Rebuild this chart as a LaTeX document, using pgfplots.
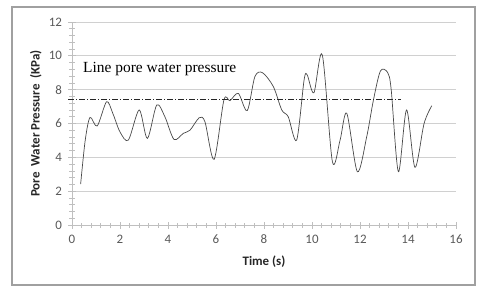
\documentclass[border=0pt]{standalone}
\usepackage{fontspec}
\setmainfont{Carlito}
\newfontfamily\tnr{Liberation Serif}
\usepackage{pgfplots}
\pgfplotsset{compat=1.18}
\definecolor{axgray}{HTML}{BFBFBF}
\definecolor{gridgray}{HTML}{D0D0D0}
\definecolor{txtgray}{HTML}{595959}
\definecolor{curvec}{HTML}{484848}
\begin{document}
\begin{tikzpicture}
\begin{axis}[
  scale only axis, width=384bp, height=203bp,
  xmin=0, xmax=16, ymin=0, ymax=12,
  xtick={0,2,...,16}, ytick={0,2,...,12},
  minor x tick num=4, minor y tick num=4,
  axis x line*=bottom, axis y line*=left,
  axis line style={draw=axgray, line width=0.8bp, -},
  every outer x axis line/.append style={-},
  every outer y axis line/.append style={-},
  ymajorgrids, major grid style={draw=gridgray, line width=0.8bp},
  tick style={draw=axgray, line width=0.7bp},
  tick align=center, major tick length=7bp, minor tick length=5bp,
  /pgf/number format/assume math mode=true,
  ticklabel style={font=\fontsize{13}{15}\selectfont, text=txtgray},
  xticklabel style={yshift=-3bp},
  yticklabel style={xshift=-3bp},
  xlabel={Time (s)},
  ylabel={Pore\ \ Water Pressure\ \ (KPa)},
  label style={font=\fontsize{13}{15}\selectfont\bfseries, text=black!85},
  xlabel style={at={(axis description cs:0.5,-0.182)}, anchor=center},
  ylabel style={at={(axis description cs:-0.094,0.5)}, anchor=center, rotate=0},
  clip=false,
]
\addplot[curvec, line width=0.7bp, smooth, tension=0.5] coordinates {
(0.36,2.42) (0.55,5.0) (0.75,6.36) (1.05,5.85) (1.44,7.29) (1.7,6.6)
(2.0,5.5) (2.35,5.02) (2.8,6.8) (3.14,5.12) (3.53,7.09) (3.87,6.4)
(4.25,5.06) (4.64,5.42) (4.92,5.61) (5.3,6.34) (5.54,6.1) (5.92,3.88)
(6.33,7.39) (6.58,7.35) (6.93,7.78) (7.3,6.76) (7.62,8.77) (7.94,9.0)
(8.39,8.18) (8.74,6.8) (9.01,6.4) (9.36,5.02) (9.67,8.57) (9.8,8.87)
(10.08,7.82) (10.43,10.05) (10.85,3.74) (11.17,5.02) (11.45,6.6) (11.89,3.15)
(12.28,5.22) (12.56,7.39) (12.85,9.1) (13.15,9.02) (13.3,8.0) (13.6,3.15) (13.94,6.8)
(14.29,3.41) (14.67,6.0) (14.99,7.05)
};
\addplot[black!85, line width=0.6bp, dash pattern=on 6bp off 2bp on 1bp off 2bp] coordinates {(-0.15,7.43) (13.7,7.43)};
\node[anchor=base west, inner sep=0pt, font=\tnr\fontsize{15.5}{17}\selectfont] at (axis cs:0.46,9.04) {Line pore water pressure};
\end{axis}
\draw[draw={rgb,255:red,160;green,160;blue,160}, line width=1.2bp] (-60bp,-60bp) rectangle (403bp,218bp);
\pgfresetboundingbox
\path[use as bounding box] (-72bp,-68bp) rectangle (408bp,225bp);
\end{tikzpicture}
\end{document}
